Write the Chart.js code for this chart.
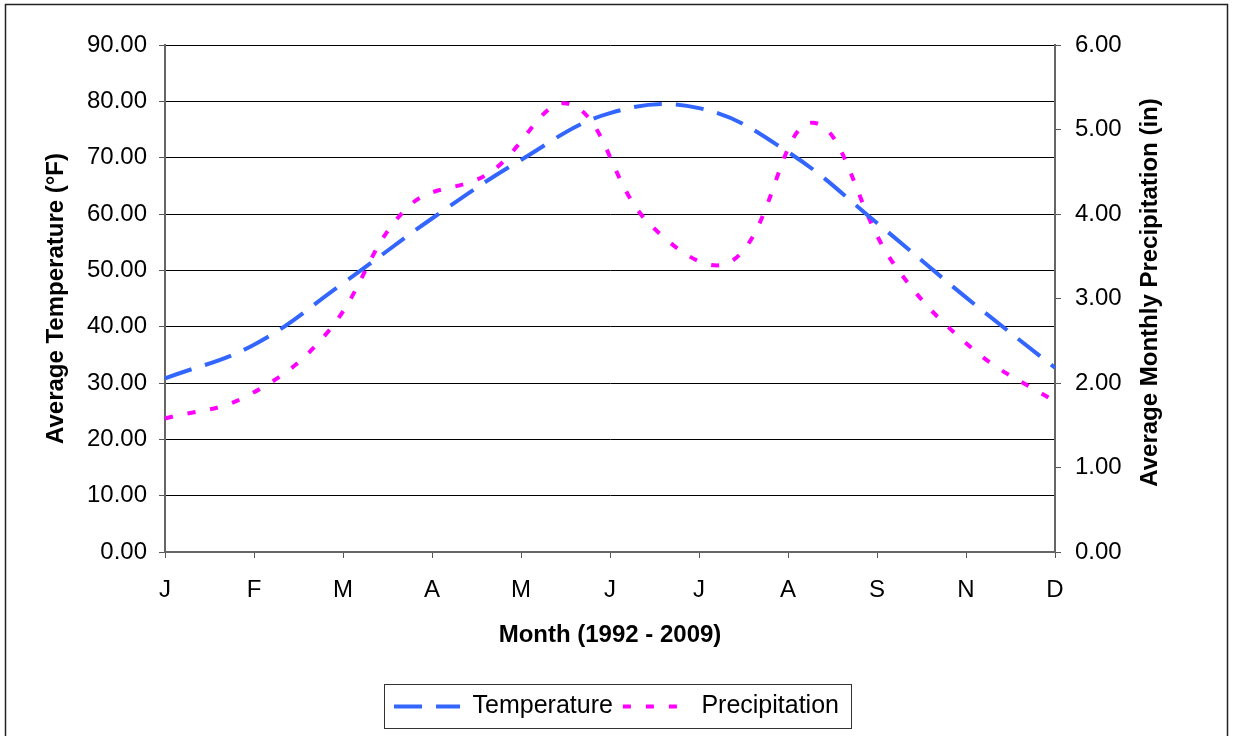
<!DOCTYPE html>
<html>
<head>
<meta charset="utf-8">
<script src="https://cdn.jsdelivr.net/npm/chart.js@4.4.1/dist/chart.umd.min.js"></script>
<style>
  html, body { margin: 0; padding: 0; background: #fff; }
</style>
</head>
<body>
<canvas id="grafico" width="1233" height="736"></canvas>
<script>
// Datos
const meses = ['J', 'F', 'M', 'A', 'M', 'J', 'J', 'A', 'S', 'N', 'D'];
const mesesPrecip = ['J', 'F', 'M', 'A', 'M', 'J', 'J', 'A', 'S', 'O', 'N', 'D'];
const temperatura = [30.8, 36.8, 47.7, 59.2, 69.6, 77.9, 78.8, 71.0, 58.4, 45.2, 32.7];
const precipitacion = [1.58, 1.84, 2.59, 4.08, 4.48, 5.30, 3.87, 3.44, 5.08, 3.42, 2.39, 1.78];
const ticksTemp = [0, 10, 20, 30, 40, 50, 60, 70, 80, 90];
const ticksPrecip = [0, 1, 2, 3, 4, 5, 6];

const fuente = '"Liberation Sans", Arial, sans-serif';

// fondo blanco y marco exterior
const fondo = {
  id: 'fondo',
  beforeDraw(chart) {
    const ctx = chart.ctx;
    ctx.save();
    ctx.fillStyle = '#fff';
    ctx.fillRect(0, 0, chart.width, chart.height);
    ctx.strokeStyle = '#222';
    ctx.lineWidth = 1.5;
    ctx.strokeRect(5.5, 4.5, 1222, 760);
    ctx.restore();
  }
};

// caja alrededor de la leyenda
const cajaLeyenda = {
  id: 'cajaLeyenda',
  afterDraw(chart) {
    const hb = chart.legend.legendHitBoxes;
    if (!hb || !hb.length) return;
    const ultimo = hb[hb.length - 1];
    const x0 = hb[0].left - 10;
    const x1 = ultimo.left + ultimo.width + 12;
    const y0 = hb[0].top - 10;
    const y1 = hb[0].top + hb[0].height + 9;
    const ctx = chart.ctx;
    ctx.save();
    ctx.strokeStyle = '#333';
    ctx.lineWidth = 1;
    ctx.strokeRect(Math.round(x0) + 0.5, Math.round(y0) + 0.5, Math.round(x1 - x0), Math.round(y1 - y0));
    ctx.restore();
  }
};

// titulo del eje derecho, leido de abajo hacia arriba
const tituloDerecho = {
  id: 'tituloDerecho',
  afterDraw(chart) {
    const ctx = chart.ctx;
    ctx.save();
    ctx.translate(1150, (chart.chartArea.top + chart.chartArea.bottom) / 2 - 6);
    ctx.rotate(-Math.PI / 2);
    ctx.font = 'bold 24px ' + fuente;
    ctx.fillStyle = '#000';
    ctx.textAlign = 'center';
    ctx.textBaseline = 'middle';
    ctx.fillText('Average Monthly Precipitation (in)', 0, 0);
    ctx.restore();
  }
};

const ctx = document.getElementById('grafico').getContext('2d');

const grafico = new Chart(ctx, {
  type: 'line',
  data: {
    labels: meses,
    datasets: [{
      label: 'Temperature',
      data: temperatura,
      xAxisID: 'x',
      yAxisID: 'y',
      borderColor: '#3366FF',
      backgroundColor: '#3366FF',
      borderWidth: 4,
      borderDash: [28, 14],
      pointRadius: 0,
      tension: 0.4,
      fill: false
    }, {
      label: 'Precipitation',
      data: precipitacion,
      xAxisID: 'x2',
      yAxisID: 'y1',
      borderColor: '#FF00FF',
      backgroundColor: '#FF00FF',
      borderWidth: 4,
      borderDash: [8, 15],
      pointRadius: 0,
      tension: 0.4,
      fill: false
    }]
  },
  options: {
    responsive: false,
    animation: false,
    devicePixelRatio: 1,
    layout: {
      padding: { top: 45, left: 0, right: 0, bottom: 7 }
    },
    scales: {
      x: {
        type: 'category',
        position: 'bottom',
        offset: false,
        afterFit: function (s) { s.height = 132; },
        grid: { display: true, drawOnChartArea: false, drawTicks: true, tickLength: 6, color: '#555' },
        border: { display: true, color: '#666', width: 2 },
        ticks: { color: '#000', padding: 18, font: { family: fuente, size: 24 }, maxRotation: 0, autoSkip: false },
        title: { display: true, text: 'Month (1992 - 2009)', color: '#000', padding: { top: 0, bottom: 34 }, font: { family: fuente, size: 24, weight: 'bold' } }
      },
      x2: {
        type: 'category',
        labels: mesesPrecip,
        display: false,
        offset: false
      },
      y: {
        position: 'left',
        min: ticksTemp[0],
        max: ticksTemp[ticksTemp.length - 1],
        afterFit: function (s) { s.width = 165; },
        afterBuildTicks: function (s) { s.ticks = ticksTemp.map(v => ({ value: v })); },
        grid: { color: '#000', lineWidth: 1, drawTicks: true, tickLength: 6, tickColor: '#555' },
        border: { display: true, color: '#666', width: 2 },
        ticks: {
          color: '#000', padding: 12, font: { family: fuente, size: 24 },
          callback: function (v) { return Number(v).toFixed(2); }
        },
        title: { display: true, text: 'Average Temperature (°F)', color: '#000', padding: { top: 42, bottom: 0 }, font: { family: fuente, size: 24, weight: 'bold' } }
      },
      y1: {
        position: 'right',
        min: ticksPrecip[0],
        max: ticksPrecip[ticksPrecip.length - 1],
        afterFit: function (s) { s.width = 1233 - 1055; },
        afterBuildTicks: function (s) { s.ticks = ticksPrecip.map(v => ({ value: v })); },
        grid: { drawOnChartArea: false, drawTicks: true, tickLength: 6, color: '#555' },
        border: { display: true, color: '#666', width: 2 },
        ticks: {
          color: '#000', padding: 14, font: { family: fuente, size: 24 },
          callback: function (v) { return Number(v).toFixed(2); }
        }
      }
    },
    plugins: {
      legend: {
        display: true,
        position: 'bottom',
        labels: {
          color: '#000',
          font: { family: fuente, size: 25 },
          usePointStyle: true,
          pointStyle: 'line',
          pointStyleWidth: 66,
          padding: 10,
          generateLabels: function (chart) {
            const items = Chart.defaults.plugins.legend.labels.generateLabels(chart);
            items.forEach((it, i) => {
              const ds = chart.data.datasets[i];
              it.lineDash = ds.borderDash;
              it.lineWidth = ds.borderWidth;
              it.strokeStyle = ds.borderColor;
              it.lineCap = 'butt';
            });
            return items;
          }
        }
      },
      tooltip: { enabled: false }
    }
  },
  plugins: [fondo, cajaLeyenda, tituloDerecho]
});
</script>
</body>
</html>
